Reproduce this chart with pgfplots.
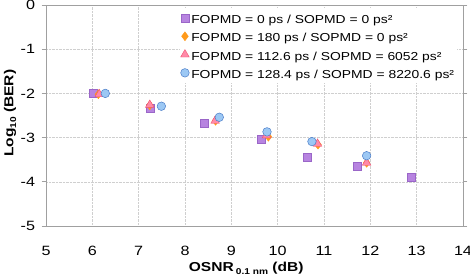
\documentclass[border=0pt]{standalone}
\usepackage{fontspec}
\setmainfont{Liberation Sans}[FakeStretch=1.2]
\usepackage{pgfplots}
\pgfplotsset{compat=1.18}
\definecolor{sqfill}{HTML}{B784E0}
\definecolor{sqdraw}{HTML}{9A66C8}
\definecolor{dmfill}{HTML}{FF9A1A}
\definecolor{trfill}{HTML}{FF8AA8}
\definecolor{trdraw}{HTML}{F0506E}
\definecolor{cifill}{HTML}{9CC8F4}
\definecolor{cidraw}{HTML}{4A7CC8}
\definecolor{gridc}{HTML}{CFCFCF}
\definecolor{framec}{HTML}{A0A0A0}
\newcommand{\lstrut}{\rule[-4.4bp]{0pt}{17.2bp}}
\begin{document}
\begin{tikzpicture}
\begin{axis}[
  scale only axis,
  width=417bp, height=221bp,
  xmin=5, xmax=14, ymin=-5, ymax=0,
  xtick={5,...,14}, ytick={-5,...,0},
  tick align=outside,
  major tick length=4.5bp,
  xtick style={draw=none},
  ytick style={framec, line width=0.8pt},
  grid=major,
  major grid style={gridc, densely dotted, line width=0.5pt},
  axis line style={framec, line width=0.8pt},
  /pgf/number format/assume math mode=true,
  tick label style={font=\fontsize{13.5}{15}\selectfont, text=black},
  xticklabel style={anchor=center, yshift=-20bp},
  yticklabel style={anchor=east, xshift=-3bp},
  xlabel={\bfseries OSNR\,\raisebox{-0.4ex}{\fontsize{8.5}{9}\selectfont 0.1 nm} (dB)},
  ylabel={\bfseries Log\raisebox{-0.4ex}{\fontsize{8.5}{9}\selectfont 10} (BER)},
  label style={font=\fontsize{13}{15}\selectfont},
  xlabel style={at={(axis description cs:0.48,0)}, anchor=center, yshift=-42.5bp},
  ylabel style={at={(axis description cs:0,0.51)}, anchor=center, yshift=36bp},
  legend style={at={(0.32,0.988)}, anchor=north west, draw=none, fill=white,
    font=\fontsize{11.6}{13}\selectfont, row sep=0pt, inner sep=1pt,
    legend cell align=left},
  legend image code/.code={\draw[#1] plot coordinates {(0.15cm,0cm)};},
]
\addplot[only marks, mark=square*, mark size=4, mark options={fill=sqfill, draw=sqdraw, line width=0.4pt}]
  coordinates {(6.02,-2.0) (7.24,-2.34) (8.42,-2.68) (9.65,-3.03) (10.63,-3.44) (11.72,-3.64) (12.89,-3.89)};
\addlegendentry{\lstrut FOPMD = 0 ps / SOPMD = 0 ps²}
\addplot[only marks, mark=diamond*, mark size=4.5, mark options={fill=dmfill, draw=dmfill, line width=0.4pt}]
  coordinates {(6.13,-2.02) (7.24,-2.27) (8.66,-2.62) (9.80,-2.98) (10.87,-3.16) (11.92,-3.57)};
\addlegendentry{\lstrut FOPMD = 180 ps / SOPMD = 0 ps²}
\addplot[only marks, mark=triangle*, mark size=5, mark options={fill=trfill, draw=trdraw, line width=0.4pt}]
  coordinates {(6.15,-2.02) (7.24,-2.26) (8.65,-2.62) (9.76,-2.95) (10.86,-3.14) (11.92,-3.57)};
\addlegendentry{\lstrut FOPMD = 112.6 ps / SOPMD = 6052 ps²}
\addplot[only marks, mark=*, mark size=4.3, mark options={fill=cifill, draw=cidraw, line width=0.5pt}]
  coordinates {(6.28,-2.0) (7.49,-2.29) (8.74,-2.54) (9.77,-2.87) (10.74,-3.09) (11.92,-3.41)};
\addlegendentry{\lstrut FOPMD = 128.4 ps / SOPMD = 8220.6 ps²}
\coordinate (ll) at (rel axis cs:0,0);
\end{axis}
\pgfresetboundingbox
\path ([shift={(-46bp,-54bp)}]ll) rectangle ++(470bp,280bp);
\end{tikzpicture}
\end{document}
